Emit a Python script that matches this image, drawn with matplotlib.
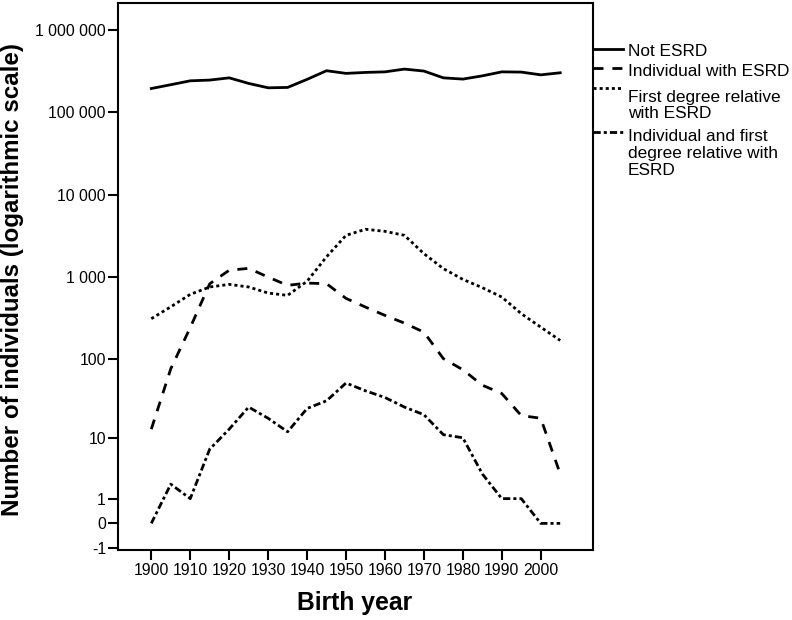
import numpy as np
import matplotlib
matplotlib.use('Agg')
import matplotlib.pyplot as plt
from matplotlib.lines import Line2D
from matplotlib.ticker import NullLocator

plt.rcParams['font.family'] = ['Liberation Sans', 'DejaVu Sans']

# data
years = [1900, 1905, 1910, 1915, 1920, 1925, 1930, 1935, 1940, 1945, 1950,
         1955, 1960, 1965, 1970, 1975, 1980, 1985, 1990, 1995, 2000, 2005]
not_esrd = [195000, 217000, 242000, 247000, 263000, 225000, 199000, 201000,
            252000, 321000, 298000, 306000, 311000, 336000, 318000, 263000,
            254000, 278000, 311000, 309000, 286000, 303000]
ind_esrd = [13, 75, 240, 820, 1200, 1265, 990, 785, 837, 823, 545,
            427, 338, 272, 211, 100, 73, 47, 37, 19.5, 18, 3]
first_deg = [308, 430, 610, 750, 807, 750, 633, 593, 880, 1750, 3190,
             3780, 3570, 3190, 1910, 1255, 929, 736, 566, 355, 243, 167]
both = [0, 2, 1, 7, 13, 25, 18, 12, 24, 30, 50,
        40, 33, 25, 20, 11, 10, 3, 1, 1, 0, 0]

labels = ['Not ESRD', 'Individual with ESRD',
          'First degree relative\nwith ESRD',
          'Individual and first\ndegree relative with\nESRD']

x_ticks = [1900, 1910, 1920, 1930, 1940, 1950, 1960, 1970, 1980, 1990, 2000]
y_ticks = [-1, 0, 1, 10, 100, 1000, 10000, 100000, 1000000]
y_tick_labels = ['-1', '0', '1', '10', '100', '1 000', '10 000', '100 000', '1 000 000']


def fwd(v):
    v = np.asarray(v, dtype=float)
    return np.sign(v) * np.log10(1 + np.abs(v))


def inv(t):
    t = np.asarray(t, dtype=float)
    return np.sign(t) * (10 ** np.abs(t) - 1)


W, H = 792, 620
fig = plt.figure(figsize=(W / 100, H / 100), dpi=100, facecolor='white')
ax = fig.add_axes([118 / W, 1 - 549.7 / H, (593.3 - 118) / W, (549.7 - 3) / H])

lw = 2.0
styles = [
    dict(linestyle='-'),
    dict(dashes=(3.6, 3.2)),
    dict(dashes=(1.1, 1.1)),
    dict(dashes=(2.6, 1.1, 1.1, 1.1)),
]
series = [not_esrd, ind_esrd, first_deg, both]
for vals, st in zip(series, styles):
    ax.plot(years, vals, color='black', linewidth=lw, **st)

ax.set_yscale('function', functions=(fwd, inv))
ax.set_ylim(-1.09, 2.14e6)
ax.set_xlim(1891.45, 2013.5)
ax.set_yticks(y_ticks)
ax.set_yticklabels(y_tick_labels)
ax.yaxis.set_minor_locator(NullLocator())
ax.set_xticks(x_ticks)
ax.xaxis.set_minor_locator(NullLocator())

for sp in ax.spines.values():
    sp.set_linewidth(1.5)
ax.tick_params(axis='y', direction='out', length=7.2, width=1.5, pad=1.5, labelsize=11.3)
ax.tick_params(axis='x', direction='out', length=7.2, width=1.5, pad=2.5, labelsize=11.3)

fig.text(13 / W, 1 - 280 / H, 'Number of individuals (logarithmic scale)',
         rotation=90, ha='center', va='center', fontsize=17.4, fontweight='bold')
fig.text(354.5 / W, 1 - 603.4 / H, 'Birth year',
         ha='center', va='center', fontsize=17.8, fontweight='bold')

# legend drawn outside the right spine
handle_y = [49, 68.3, 87.5, 132.3]
first_base = [56.5, 76.5, 101.6, 141]
line_gap = 16.9
for hy, base, lab, st in zip(handle_y, first_base, labels, styles):
    yf = 1 - hy / H
    fig.add_artist(Line2D([593.3 / W, 623 / W], [yf, yf], color='black',
                          linewidth=lw, transform=fig.transFigure, **st))
    for i, part in enumerate(lab.split('\n')):
        fig.text(628 / W, 1 - (base + i * line_gap) / H, part,
                 ha='left', va='baseline', fontsize=12.4)

fig.savefig('out.png', dpi=100, facecolor='white')
